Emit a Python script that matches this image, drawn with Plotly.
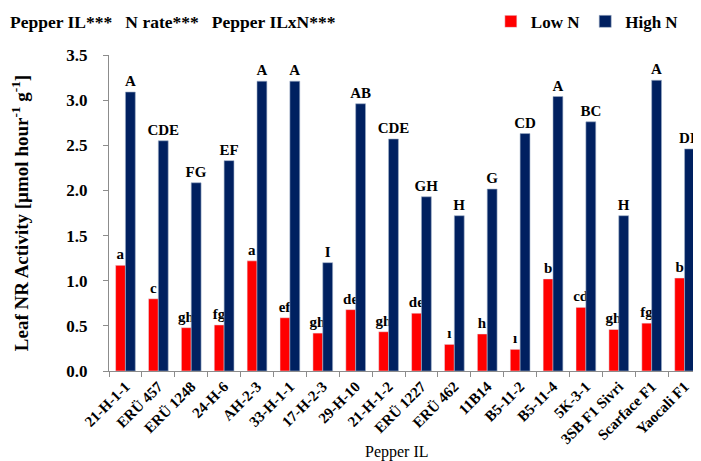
import plotly.graph_objects as go

categories = ["21-H-1-1", "ERÜ 457", "ERÜ 1248", "24-H-6", "AH-2-3", "33-H-1-1", "17-H-2-3",
              "29-H-10", "21-H-1-2", "ERÜ 1227", "ERÜ 462", "11B14", "B5-11-2", "B5-11-4",
              "5K-3-1", "3SB F1 Sivri", "Scarface F1", "Yaocali F1"]
low_n = [1.17, 0.80, 0.48, 0.51, 1.22, 0.59, 0.42, 0.68, 0.435, 0.64, 0.295, 0.41, 0.24, 1.02,
         0.705, 0.46, 0.53, 1.03]
high_n = [3.09, 2.55, 2.085, 2.33, 3.21, 3.21, 1.20, 2.96, 2.57, 1.93, 1.72, 2.015, 2.63, 3.04,
          2.76, 1.72, 3.22, 2.46]
low_letters = ["a", "c", "gh", "fg", "a", "ef", "gh", "de", "gh", "de", "ı", "h", "ı", "b",
               "cd", "gh", "fg", "b"]
high_letters = ["A", "CDE", "FG", "EF", "A", "A", "I", "AB", "CDE", "GH", "H", "G", "CD", "A",
                "BC", "H", "A", "DE"]
y_ticks = [0.0, 0.5, 1.0, 1.5, 2.0, 2.5, 3.0, 3.5]

FONT = "Liberation Serif"
RED = "#FF0000"
NAVY = "#002060"

fig = go.Figure()
fig.add_trace(go.Bar(name="<b>Low N</b>", x=categories, y=low_n, marker=dict(color=RED),
                     text=low_letters, textposition="outside", constraintext="none",
                     cliponaxis=False,
                     textfont=dict(family=FONT, size=15, color="black", weight="bold")))
fig.add_trace(go.Bar(name="<b>High N</b>", x=categories, y=high_n,
                     marker=dict(color=NAVY, line=dict(color="#9FB0C8", width=0.6)),
                     text=high_letters, textposition="outside", constraintext="none",
                     cliponaxis=False,
                     textfont=dict(family=FONT, size=15, color="black", weight="bold")))

# page body has an 8px margin, so the figure is offset by 8px
fig.update_layout(
    width=693, height=453,
    margin=dict(l=101, r=0, t=47, b=90, autoexpand=False),
    paper_bgcolor="white", plot_bgcolor="white",
    barmode="group", bargap=0.4, bargroupgap=0,
    font=dict(family=FONT, color="black"),
    showlegend=True,
    legend=dict(orientation="h", x=0.645, xanchor="left", y=1.105, yanchor="middle",
                font=dict(family=FONT, size=17, color="black"), itemwidth=30,
                bgcolor="rgba(0,0,0,0)", traceorder="normal"),
)
fig.update_xaxes(
    type="category", tickangle=-45, tickson="boundaries", automargin=False,
    showline=True, linecolor="#8c8c8c", linewidth=1,
    ticks="outside", ticklen=5, tickcolor="#8c8c8c",
    tickfont=dict(family=FONT, size=15, weight="bold"),
    showgrid=False,
)
fig.update_yaxes(
    range=[0, 3.5], tickvals=y_ticks, tickformat=".1f", automargin=False,
    showline=True, linecolor="#8c8c8c", linewidth=1,
    ticks="outside", ticklen=5, tickcolor="#8c8c8c", ticklabelstandoff=12,
    tickfont=dict(family=FONT, size=17, weight="bold"),
    title=dict(text="Leaf NR Activity [µmol hour<sup>-1</sup> g<sup>-1</sup>]",
               font=dict(family=FONT, size=19, weight="bold"), standoff=34),
    showgrid=False, zeroline=False,
)
fig.add_annotation(text="Pepper IL***   N rate***   Pepper ILxN***",
                   xref="paper", yref="paper", x=-0.17, xanchor="left",
                   y=1.105, yanchor="middle", showarrow=False,
                   font=dict(family=FONT, size=17.5, color="black", weight="bold"))
fig.add_annotation(text="Pepper IL",
                   xref="paper", yref="paper", x=0.487, xanchor="center",
                   y=-0.255, yanchor="middle", showarrow=False,
                   font=dict(family=FONT, size=16, color="black"))

fig.write_html("out.html")
